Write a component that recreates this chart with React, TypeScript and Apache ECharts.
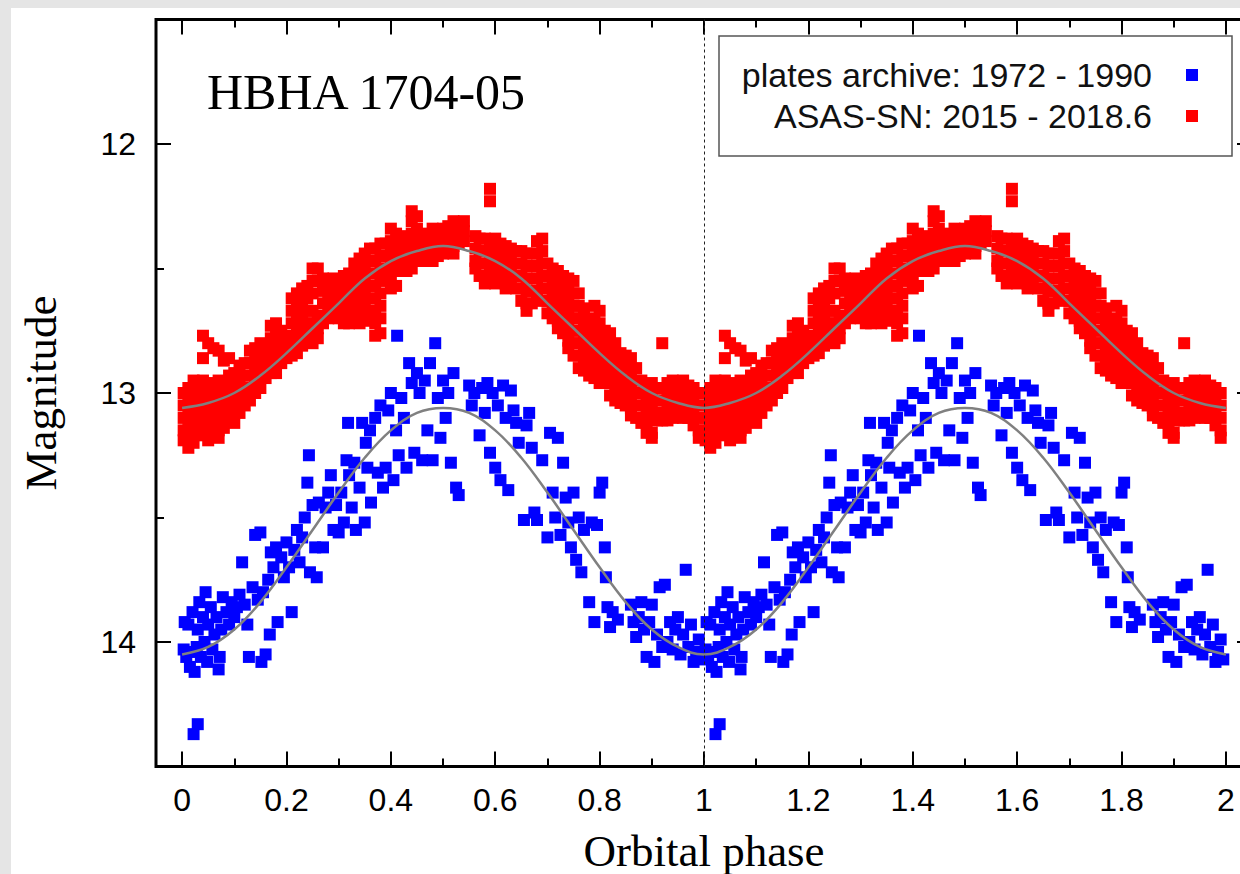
import React, { useEffect, useRef } from "react";
import * as echarts from "echarts";

// ---- axis ticks ----
const xMajorTicks = [0, 0.2, 0.4, 0.6, 0.8, 1, 1.2, 1.4, 1.6, 1.8, 2];
const xMinorTicks = [0.1, 0.3, 0.5, 0.7, 0.9, 1.1, 1.3, 1.5, 1.7, 1.9];
const yMajorTicks = [12, 13, 14];
const yMinorTicks = [12.5, 13.5];

// ---- texts ----
const titleText = "HBHA 1704-05";
const xName = "Orbital phase";
const yName = "Magnitude";
const blueLabel = "plates archive: 1972 - 1990";
const redLabel = "ASAS-SN: 2015 - 2018.6";

// ---- fitted sine curves at phase steps of 0.05 (one cycle) ----
const fitPhases = [0, 0.05, 0.1, 0.15, 0.2, 0.25, 0.3, 0.35, 0.4, 0.45, 0.5, 0.55, 0.6, 0.65, 0.7, 0.75, 0.8, 0.85, 0.9, 0.95, 1];
const redFit = [13.06, 13.04, 13.0, 12.93, 12.84, 12.74, 12.64, 12.54, 12.47, 12.43, 12.41, 12.43, 12.47, 12.54, 12.64, 12.74, 12.84, 12.93, 13.0, 13.04, 13.06];
const blueFit = [14.05, 14.02, 13.95, 13.84, 13.7, 13.55, 13.4, 13.26, 13.15, 13.08, 13.06, 13.08, 13.15, 13.26, 13.4, 13.55, 13.7, 13.84, 13.95, 14.02, 14.05];

// ---- ASAS-SN (red): phase -> magnitudes seen at that phase (first cycle) ----
const redPoints: [number, number[]][] = [
  [0.003, [13.0, 13.05, 13.1, 13.15, 13.19]],
  [0.012, [12.98, 13.03, 13.08, 13.13, 13.18, 13.22]],
  [0.022, [12.95, 13.0, 13.05, 13.1, 13.15, 13.2]],
  [0.03, [12.97, 13.02, 13.07, 13.12, 13.17]],
  [0.04, [12.77, 12.86, 12.95, 13.0, 13.05, 13.1, 13.15]],
  [0.05, [12.8, 12.96, 13.01, 13.06, 13.11, 13.16, 13.19]],
  [0.06, [12.82, 12.97, 13.02, 13.07, 13.12]],
  [0.07, [12.83, 12.95, 13.0, 13.05, 13.1, 13.15, 13.18]],
  [0.08, [12.87, 12.96, 13.01, 13.06, 13.11, 13.14]],
  [0.09, [12.86, 12.93, 12.98, 13.03, 13.08]],
  [0.1, [12.92, 12.97, 13.02, 13.07, 13.12]],
  [0.11, [12.89, 12.94, 12.99, 13.04, 13.08]],
  [0.12, [12.88, 12.93, 12.98, 13.02, 13.05]],
  [0.13, [12.83, 12.88, 12.93, 12.98, 13.03]],
  [0.14, [12.82, 12.87, 12.92, 12.96, 13.0]],
  [0.15, [12.8, 12.85, 12.9, 12.94, 12.98]],
  [0.16, [12.81, 12.86, 12.9, 12.94]],
  [0.17, [12.73, 12.78, 12.83, 12.88, 12.92]],
  [0.18, [12.72, 12.77, 12.82, 12.87, 12.92]],
  [0.19, [12.75, 12.8, 12.84, 12.88]],
  [0.2, [12.78, 12.82, 12.86]],
  [0.21, [12.62, 12.67, 12.72, 12.77, 12.82, 12.85]],
  [0.22, [12.6, 12.65, 12.7, 12.75, 12.8, 12.84]],
  [0.23, [12.58, 12.63, 12.68, 12.73, 12.78, 12.81]],
  [0.24, [12.57, 12.62, 12.67, 12.72, 12.76]],
  [0.25, [12.5, 12.55, 12.6, 12.67, 12.72, 12.77, 12.8]],
  [0.26, [12.5, 12.55, 12.69, 12.74, 12.78]],
  [0.27, [12.54, 12.59, 12.64, 12.69, 12.72]],
  [0.28, [12.55, 12.6, 12.65, 12.7]],
  [0.29, [12.54, 12.59, 12.64, 12.69]],
  [0.3, [12.55, 12.6, 12.65, 12.7]],
  [0.31, [12.53, 12.58, 12.63, 12.68, 12.72]],
  [0.32, [12.52, 12.57, 12.62, 12.67, 12.72]],
  [0.33, [12.48, 12.53, 12.58, 12.63, 12.68, 12.71]],
  [0.34, [12.46, 12.51, 12.56, 12.61, 12.66, 12.72]],
  [0.35, [12.44, 12.49, 12.54, 12.59, 12.64, 12.68]],
  [0.36, [12.42, 12.47, 12.52, 12.57, 12.62, 12.67, 12.71]],
  [0.37, [12.42, 12.47, 12.52, 12.57, 12.62, 12.67, 12.72, 12.77]],
  [0.38, [12.4, 12.45, 12.5, 12.55, 12.6, 12.65, 12.7, 12.76]],
  [0.39, [12.4, 12.45, 12.5, 12.54]],
  [0.4, [12.34, 12.39, 12.44, 12.49, 12.54, 12.58]],
  [0.41, [12.36, 12.41, 12.46, 12.51, 12.57]],
  [0.42, [12.37, 12.42, 12.47, 12.51]],
  [0.43, [12.38, 12.43, 12.48, 12.51]],
  [0.44, [12.27, 12.31, 12.36, 12.41, 12.46, 12.5]],
  [0.45, [12.29, 12.34, 12.39, 12.44, 12.47]],
  [0.46, [12.37, 12.42, 12.47]],
  [0.47, [12.36, 12.41, 12.46]],
  [0.48, [12.34, 12.39, 12.44, 12.47]],
  [0.49, [12.35, 12.4, 12.45]],
  [0.5, [12.34, 12.39, 12.44]],
  [0.51, [12.33, 12.38, 12.43]],
  [0.52, [12.31, 12.36, 12.41, 12.44]],
  [0.53, [12.32, 12.36, 12.4]],
  [0.54, [12.31, 12.35, 12.39]],
  [0.562, [12.37, 12.42, 12.47, 12.5]],
  [0.57, [12.38, 12.43, 12.48, 12.53]],
  [0.58, [12.38, 12.43, 12.48, 12.53, 12.56]],
  [0.59, [12.18, 12.23, 12.4, 12.45, 12.5, 12.55]],
  [0.6, [12.38, 12.43, 12.48, 12.53, 12.56]],
  [0.61, [12.4, 12.45, 12.5, 12.54]],
  [0.62, [12.41, 12.46, 12.51, 12.56, 12.58]],
  [0.63, [12.42, 12.47, 12.52, 12.56]],
  [0.64, [12.43, 12.48, 12.53, 12.58]],
  [0.65, [12.43, 12.48, 12.53, 12.58, 12.63]],
  [0.66, [12.44, 12.49, 12.54, 12.59, 12.64, 12.67]],
  [0.67, [12.44, 12.49, 12.54, 12.59, 12.64]],
  [0.68, [12.39, 12.44, 12.49, 12.54, 12.59, 12.62]],
  [0.69, [12.38, 12.43, 12.48, 12.53, 12.58, 12.63]],
  [0.7, [12.48, 12.53, 12.58, 12.63, 12.68]],
  [0.71, [12.5, 12.55, 12.6, 12.65, 12.7]],
  [0.72, [12.51, 12.56, 12.61, 12.66, 12.71, 12.74]],
  [0.73, [12.53, 12.58, 12.63, 12.68, 12.73, 12.76]],
  [0.74, [12.54, 12.59, 12.64, 12.69, 12.74, 12.79, 12.82]],
  [0.75, [12.55, 12.6, 12.65, 12.7, 12.75, 12.8, 12.85]],
  [0.76, [12.6, 12.65, 12.7, 12.75, 12.8, 12.85, 12.9]],
  [0.77, [12.66, 12.71, 12.76, 12.81, 12.86, 12.91]],
  [0.78, [12.7, 12.75, 12.8, 12.85, 12.9, 12.93]],
  [0.79, [12.65, 12.71, 12.76, 12.81, 12.86, 12.91, 12.94]],
  [0.8, [12.67, 12.72, 12.77, 12.82, 12.87, 12.92, 12.96]],
  [0.81, [12.75, 12.8, 12.85, 12.9, 12.95]],
  [0.82, [12.76, 12.81, 12.86, 12.91, 12.96, 13.01]],
  [0.83, [12.8, 12.85, 12.9, 12.95, 13.0, 13.03]],
  [0.84, [12.84, 12.89, 12.94, 12.99, 13.04]],
  [0.85, [12.85, 12.9, 12.95, 13.0, 13.05]],
  [0.86, [12.86, 12.91, 12.96, 13.01, 13.06, 13.09]],
  [0.87, [12.9, 12.95, 13.0, 13.05, 13.1]],
  [0.88, [12.95, 13.0, 13.05, 13.1, 13.12]],
  [0.89, [12.97, 13.02, 13.07, 13.12, 13.16]],
  [0.9, [12.96, 13.01, 13.06, 13.11, 13.16, 13.18]],
  [0.91, [12.98, 13.03, 13.08, 13.11]],
  [0.92, [12.8, 12.98, 13.03, 13.08, 13.11]],
  [0.93, [12.96, 13.01, 13.06, 13.11]],
  [0.94, [12.95, 13.0, 13.05, 13.1]],
  [0.95, [12.96, 13.01, 13.06, 13.09]],
  [0.96, [12.95, 13.0, 13.05, 13.1]],
  [0.97, [12.97, 13.02, 13.07, 13.1]],
  [0.98, [12.98, 13.03, 13.08, 13.13]],
  [0.99, [13.0, 13.05, 13.1, 13.15, 13.18]],
];

// ---- plates archive (blue): [phase, magnitude] (first cycle) ----
const bluePoints: [number, number][] = [
  [0.003, 14.03], [0.005, 13.92], [0.008, 14.06], [0.012, 13.93], [0.015, 14.1], [0.018, 14.04], [0.02, 13.88],
  [0.022, 14.37], [0.024, 14.12], [0.028, 14.02], [0.03, 14.33], [0.03, 13.95], [0.033, 13.84], [0.036, 14.06],
  [0.04, 13.9], [0.043, 14.0], [0.045, 13.8], [0.048, 14.08], [0.05, 13.93], [0.055, 13.86], [0.058, 14.03],
  [0.062, 13.97], [0.066, 13.9], [0.07, 14.11], [0.072, 14.06], [0.075, 13.95], [0.078, 13.82], [0.085, 13.88],
  [0.09, 13.93], [0.095, 13.84], [0.1, 13.9], [0.105, 13.86],
  [0.11, 13.81], [0.115, 13.68], [0.12, 13.85], [0.125, 13.93], [0.128, 14.06], [0.135, 13.78], [0.14, 13.57],
  [0.145, 13.83], [0.15, 13.56], [0.152, 14.08], [0.155, 13.8], [0.16, 14.05], [0.165, 13.75], [0.168, 13.97],
  [0.17, 13.64], [0.175, 13.7], [0.18, 13.62], [0.183, 13.92], [0.19, 13.66], [0.195, 13.74], [0.2, 13.6],
  [0.205, 13.7], [0.21, 13.88], [0.215, 13.63], [0.22, 13.55], [0.225, 13.68], [0.23, 13.58], [0.235, 13.5],
  [0.24, 13.36], [0.243, 13.25], [0.245, 13.72], [0.25, 13.45], [0.255, 13.62], [0.258, 13.74], [0.262, 13.44],
  [0.27, 13.62], [0.275, 13.46], [0.28, 13.4], [0.285, 13.33], [0.29, 13.55], [0.295, 13.45], [0.3, 13.56], [0.305, 13.4],
  [0.31, 13.52], [0.315, 13.27], [0.318, 13.12], [0.32, 13.33], [0.325, 13.46], [0.33, 13.28], [0.333, 13.55],
  [0.34, 13.38], [0.345, 13.12], [0.35, 13.52], [0.352, 13.2], [0.355, 13.3], [0.36, 13.15], [0.362, 13.44],
  [0.37, 13.1], [0.375, 13.32], [0.38, 13.05], [0.385, 13.38], [0.39, 13.3], [0.395, 13.07],
  [0.4, 13.0], [0.405, 13.35], [0.41, 13.15], [0.412, 12.77], [0.415, 13.25], [0.42, 13.02], [0.425, 13.1],
  [0.43, 13.3], [0.435, 12.88], [0.44, 12.96], [0.445, 13.24], [0.45, 12.92], [0.455, 13.0], [0.46, 13.27],
  [0.465, 12.95], [0.47, 13.15], [0.475, 12.88], [0.48, 13.27], [0.485, 12.8], [0.49, 13.02], [0.495, 13.18], [0.5, 12.95],
  [0.505, 13.1], [0.51, 13.0], [0.515, 13.28], [0.52, 12.92], [0.525, 13.38], [0.53, 13.41], [0.55, 12.97],
  [0.555, 13.05], [0.56, 13.0], [0.57, 13.17], [0.575, 12.98], [0.58, 13.08], [0.585, 12.96], [0.59, 13.24],
  [0.595, 13.0], [0.6, 13.3], [0.605, 13.05], [0.61, 13.35], [0.615, 12.97], [0.62, 13.1], [0.625, 13.39],
  [0.63, 12.99], [0.635, 13.07], [0.64, 13.12],
  [0.645, 13.2], [0.655, 13.51], [0.66, 13.13], [0.665, 13.08], [0.67, 13.22], [0.675, 13.48], [0.68, 13.51],
  [0.69, 13.27], [0.7, 13.58], [0.705, 13.16], [0.71, 13.4], [0.715, 13.5], [0.72, 13.18], [0.725, 13.57],
  [0.73, 13.28], [0.735, 13.42], [0.74, 13.52], [0.745, 13.62],
  [0.75, 13.4], [0.755, 13.67], [0.76, 13.5], [0.765, 13.72], [0.77, 13.55], [0.78, 13.84], [0.785, 13.52],
  [0.79, 13.92], [0.795, 13.53], [0.8, 13.4], [0.805, 13.36], [0.81, 13.62], [0.812, 13.74], [0.815, 13.86],
  [0.82, 13.94], [0.825, 13.88], [0.835, 13.91],
  [0.86, 13.85], [0.865, 13.92], [0.87, 13.98], [0.875, 13.9], [0.88, 13.84], [0.885, 13.95], [0.89, 14.06],
  [0.895, 13.92], [0.9, 13.85], [0.905, 14.08], [0.91, 13.97], [0.915, 13.78], [0.92, 14.02], [0.925, 13.77],
  [0.93, 14.0], [0.935, 13.92], [0.94, 14.03], [0.945, 13.95], [0.95, 13.9], [0.955, 14.05], [0.96, 13.97],
  [0.965, 13.71], [0.97, 14.02], [0.975, 13.93], [0.98, 14.08], [0.985, 14.04], [0.99, 13.99], [0.995, 14.07],
];

const cycles = [0, 1];

function App() {
  const ref = useRef<HTMLDivElement>(null);

  useEffect(() => {
    if (!ref.current) return;
    const chart = echarts.init(ref.current, null, { renderer: "svg" });

    const redData: number[][] = [];
    cycles.forEach((c) => redPoints.forEach(([p, ms]) => ms.forEach((m) => redData.push([p + c, m]))));
    const blueData: number[][] = [];
    cycles.forEach((c) => bluePoints.forEach(([p, m]) => blueData.push([p + c, m])));
    const redLine: number[][] = [];
    const blueLine: number[][] = [];
    cycles.forEach((c) =>
      fitPhases.forEach((p, i) => {
        if (c > 0 && i === 0) return;
        redLine.push([p + c, redFit[i]]);
        blueLine.push([p + c, blueFit[i]]);
      })
    );

    const sans = "Liberation Sans";
    const serif = "Liberation Serif";
    const tickStyle = { color: "#000", width: 2 };

    const xBase = {
      type: "value",
      min: -0.05,
      max: 2.05,
      splitLine: { show: false },
      axisLine: { show: false, onZero: false },
    };
    const yBase = {
      type: "value",
      min: 11.5,
      max: 14.5,
      inverse: true,
      splitLine: { show: false },
      axisLine: { show: false, onZero: false },
    };

    chart.setOption({
      animation: false,
      backgroundColor: "#ffffff",
      grid: {
        left: 145,
        top: 11.5,
        width: 1096,
        height: 747,
        show: true,
        borderColor: "#000",
        borderWidth: 3,
        backgroundColor: "transparent",
        containLabel: false,
        outerBoundsMode: "none",
      },
      xAxis: [
        {
          ...xBase,
          position: "bottom",
          name: xName,
          nameLocation: "middle",
          nameGap: 62,
          nameTextStyle: { fontFamily: serif, fontSize: 45, color: "#000", lineHeight: 45 },
          axisTick: { inside: true, length: 15, lineStyle: tickStyle, customValues: xMajorTicks },
          axisLabel: {
            customValues: xMajorTicks,
            margin: 17,
            fontFamily: sans,
            fontSize: 32,
            lineHeight: 32,
            color: "#000",
            formatter: (v: number) => String(v),
          },
        },
        { ...xBase, position: "bottom", axisTick: { inside: true, length: 8, lineStyle: tickStyle, customValues: xMinorTicks }, axisLabel: { show: false } },
        { ...xBase, position: "top", axisTick: { inside: true, length: 15, lineStyle: tickStyle, customValues: xMajorTicks }, axisLabel: { show: false } },
        { ...xBase, position: "top", axisTick: { inside: true, length: 8, lineStyle: tickStyle, customValues: xMinorTicks }, axisLabel: { show: false } },
      ],
      yAxis: [
        {
          ...yBase,
          position: "left",
          name: yName,
          nameLocation: "middle",
          nameGap: 93,
          nameTextStyle: { fontFamily: serif, fontSize: 45, color: "#000", lineHeight: 45 },
          axisTick: { inside: true, length: 15, lineStyle: tickStyle, customValues: yMajorTicks },
          axisLabel: { customValues: yMajorTicks, margin: 20, fontFamily: sans, fontSize: 32, color: "#000", formatter: (v: number) => String(v) },
        },
        { ...yBase, position: "left", axisTick: { inside: true, length: 8, lineStyle: tickStyle, customValues: yMinorTicks }, axisLabel: { show: false } },
        { ...yBase, position: "right", axisTick: { inside: true, length: 15, lineStyle: tickStyle, customValues: yMajorTicks }, axisLabel: { show: false } },
        { ...yBase, position: "right", axisTick: { inside: true, length: 8, lineStyle: tickStyle, customValues: yMinorTicks }, axisLabel: { show: false } },
      ],
      series: [
        {
          type: "scatter",
          name: blueLabel,
          data: blueData,
          symbol: "rect",
          symbolSize: 12,
          itemStyle: { color: "#0000ff", opacity: 1 },
          z: 2,
        },
        {
          type: "scatter",
          name: redLabel,
          data: redData,
          symbol: "rect",
          symbolSize: 12,
          itemStyle: { color: "#ff0000", opacity: 1 },
          z: 3,
        },
        {
          type: "line",
          data: redLine,
          smooth: 0.4,
          showSymbol: false,
          lineStyle: { color: "#808080", width: 2.5 },
          z: 4,
        },
        {
          type: "line",
          data: blueLine,
          smooth: 0.4,
          showSymbol: false,
          lineStyle: { color: "#808080", width: 2.5 },
          z: 4,
          markLine: {
            silent: true,
            symbol: ["none", "none"],
            label: { show: false },
            lineStyle: { color: "#222", width: 1, type: [3, 3] },
            data: [{ xAxis: 1 }],
          },
        },
      ],
      graphic: [
        {
          type: "text",
          x: 196,
          y: 84,
          style: { text: titleText, fontFamily: serif, fontSize: 50, fill: "#000", align: "left", verticalAlign: "middle" },
          z: 100,
        },
        {
          type: "rect",
          shape: { x: 708, y: 28, width: 513, height: 120 },
          style: { fill: "#fff", stroke: "#555", lineWidth: 1.5 },
          z: 100,
        },
        {
          type: "text",
          x: 1141,
          y: 67,
          style: { text: blueLabel, fontFamily: sans, fontSize: 34, fill: "#111", align: "right", verticalAlign: "middle" },
          z: 101,
        },
        {
          type: "text",
          x: 1141,
          y: 108,
          style: { text: redLabel, fontFamily: sans, fontSize: 34, fill: "#111", align: "right", verticalAlign: "middle" },
          z: 101,
        },
        { type: "rect", shape: { x: 1175, y: 61, width: 12, height: 12 }, style: { fill: "#0000ff" }, z: 101 },
        { type: "rect", shape: { x: 1175, y: 102, width: 12, height: 12 }, style: { fill: "#ff0000" }, z: 101 },
      ],
    });

    return () => chart.dispose();
  }, []);

  return (
    <div style={{ position: "fixed", left: 0, top: 0, width: 1240, height: 874, background: "#e5e5e5", overflow: "hidden" }}>
      <div ref={ref} style={{ position: "absolute", left: 11, top: 8, width: 1300, height: 866, background: "#fff" }} />
    </div>
  );
}

export default App;
